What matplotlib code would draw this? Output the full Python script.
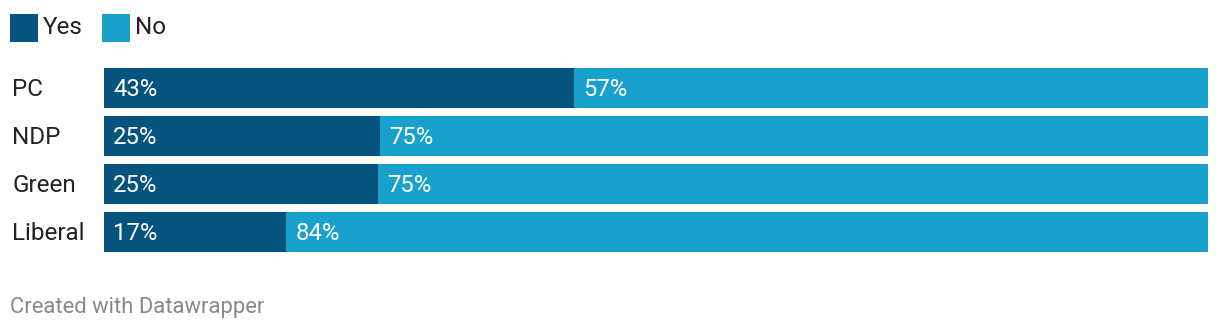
import matplotlib.pyplot as plt
from matplotlib.patches import Rectangle

# data
parties = ["PC", "NDP", "Green", "Liberal"]
yes_share = [42.6, 25.0, 24.8, 16.5]
no_share = [57.4, 75.0, 75.2, 83.5]
yes_labels = ["43%", "25%", "25%", "17%"]
no_labels = ["57%", "75%", "75%", "84%"]

YES_COLOR = "#05547f"
NO_COLOR = "#18a1cd"
TEXT_COLOR = "#222222"

plt.rcParams["font.family"] = ["Roboto", "DejaVu Sans"]

W, H = 1220, 330
fig = plt.figure(figsize=(W / 100, H / 100), dpi=100)

# axes placed in pixel terms: x 104..1208, y 64..256
ax = fig.add_axes([104 / W, (H - 256) / H, 1104 / W, 192 / H])
ypos = list(range(len(parties)))
bh = 40 / 48
ax.barh(ypos, yes_share, height=bh, color=YES_COLOR, linewidth=0)
ax.barh(ypos, no_share, left=yes_share, height=bh, color=NO_COLOR, linewidth=0)
ax.set_xlim(0, 100)
ax.set_ylim(len(parties) - 0.5, -0.5)
ax.axis("off")

pad = 9 / 1104 * 100
nudge = 2 / 48  # text sits a little low in the reference
for i, p in enumerate(parties):
    ax.text(pad, i + nudge, yes_labels[i], color="white", fontsize=17.2,
            va="center", ha="left")
    ax.text(yes_share[i] + pad, i + nudge, no_labels[i], color="white", fontsize=17.2,
            va="center", ha="left")
    fig.text(12 / W, 1 - (90 + 48 * i) / H, p, color=TEXT_COLOR, fontsize=17.5,
             va="center", ha="left")

# legend
for x0, lab, col in [(10, "Yes", YES_COLOR), (102, "No", NO_COLOR)]:
    fig.patches.append(Rectangle((x0 / W, 1 - 42 / H), 28 / W, 28 / H,
                                 transform=fig.transFigure, color=col, linewidth=0))
    fig.text((x0 + 33) / W, 1 - 28 / H, lab, color=TEXT_COLOR, fontsize=17.5,
             va="center", ha="left")

fig.text(10 / W, 1 - 307 / H, "Created with Datawrapper", color="#888888",
         fontsize=15.8, va="center", ha="left")

fig.savefig("out.png", dpi=100, facecolor="white")
